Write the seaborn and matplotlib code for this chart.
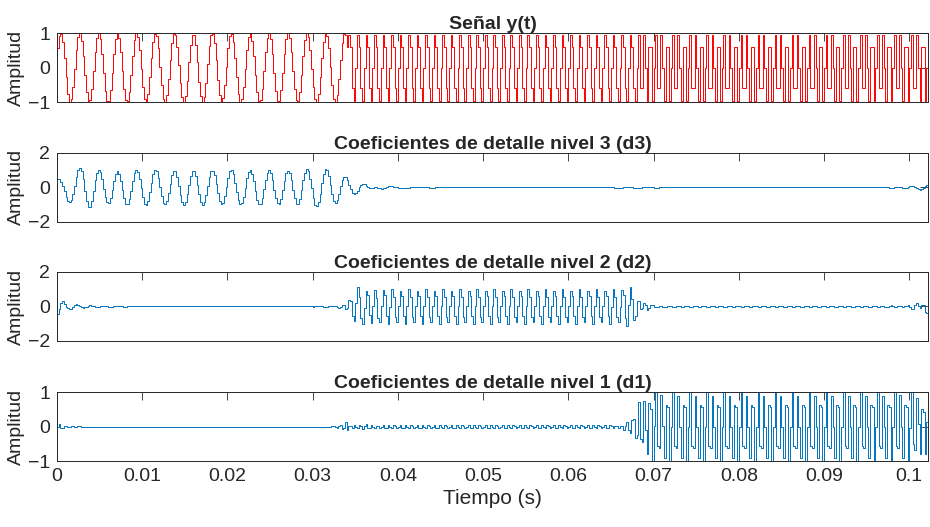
import numpy as np
import seaborn as sns
import matplotlib.pyplot as plt

# Parámetros de la señal
fs = 5000                      # frecuencia de muestreo (Hz)
n_muestras = 512
limites_segmentos = [0, 171, 342, 512]
frecuencias = [450, 1000, 1500]  # Hz, una por segmento
fases = [0.6, 0.0, 0.0]          # rad
n_taps = 62                      # longitud del filtro Meyer discreto

titulos = ['Señal y(t)',
           'Coeficientes de detalle nivel 3 (d3)',
           'Coeficientes de detalle nivel 2 (d2)',
           'Coeficientes de detalle nivel 1 (d1)']
limites_y = [1, 2, 2, 1]
ticks_x = [0, 0.01, 0.02, 0.03, 0.04, 0.05, 0.06, 0.07, 0.08, 0.09, 0.1]
etiquetas_x = ['0', '0.01', '0.02', '0.03', '0.04', '0.05', '0.06', '0.07', '0.08', '0.09', '0.1']

# Señal por tramos
t = np.arange(n_muestras) / fs
y = np.zeros(n_muestras)
for i in range(3):
    a, b = limites_segmentos[i], limites_segmentos[i + 1]
    y[a:b] = np.sin(2 * np.pi * frecuencias[i] * t[a:b] + fases[i])


# Filtro de escala Meyer discreto (aprox. FIR, como 'dmey')
def meyer(L, M=4096):
    w = 2 * np.pi * np.fft.fftfreq(M)
    x = np.clip(3 * np.abs(2 * w) / (2 * np.pi) - 1, 0, 1)
    nu = x ** 4 * (35 - 84 * x + 70 * x ** 2 - 20 * x ** 3)
    H = np.sqrt(2) * np.cos(np.pi / 2 * nu)
    hh = np.real(np.fft.ifft(H))
    n = np.arange(-L // 2 + 1, L // 2 + 1)
    h = hh[n % M]
    return h * np.sqrt(2) / h.sum()


h = meyer(n_taps)
L = len(h)
g = np.array([(-1) ** k * h[L - 1 - k] for k in range(L)])


def analisis(x):
    N = len(x)
    idx = (2 * np.arange(N // 2)[:, None] + np.arange(L)[None, :]) % N
    return (x[idx] * h).sum(1), (x[idx] * g).sum(1)


def sintesis(ca, cd):
    N = 2 * len(ca)
    x = np.zeros(N)
    for k in range(len(ca)):
        idx = (2 * k + np.arange(L)) % N
        np.add.at(x, idx, ca[k] * h + cd[k] * g)
    return x


# extensión simétrica para evitar el salto en los bordes
y_ext = np.concatenate([y, y[::-1]])
detalles = []
ca = y_ext.copy()
for nivel in range(3):
    ca, cd = analisis(ca)
    detalles.append(cd)


def reconstruir_detalle(nivel):
    cd = detalles[nivel - 1]
    x = sintesis(np.zeros_like(cd), cd)
    for _ in range(nivel - 1):
        x = sintesis(x, np.zeros_like(x))
    return x[:n_muestras]


d1 = reconstruir_detalle(1)
d2 = reconstruir_detalle(2)
d3 = reconstruir_detalle(3)

series = [y, d3, d2, d1]
colores = ['#ff0000', '#0072bd', '#0072bd', '#0072bd']

sns.set_style('white')
plt.rcParams['font.family'] = ['Liberation Sans', 'DejaVu Sans']

fig = plt.figure(figsize=(9.3, 5.27), dpi=100)
bottoms = [0.806, 0.579, 0.353, 0.125]
gris = '#262626'

for i in range(4):
    ax = fig.add_axes([0.0613, bottoms[i], 0.9366, 0.131])
    sns.lineplot(x=t, y=series[i], ax=ax, color=colores[i], linewidth=0.7,
                 drawstyle='steps-post', estimator=None, sort=False)
    ax.set_xlim(0, (n_muestras - 1) / fs)
    ax.set_ylim(-limites_y[i], limites_y[i])
    ax.set_yticks([-limites_y[i], 0, limites_y[i]])
    ax.set_xticks(ticks_x)
    if i == 3:
        ax.set_xticklabels(etiquetas_x)
        ax.set_xlabel('Tiempo (s)', fontsize=15, color=gris, labelpad=3)
    else:
        ax.set_xticklabels([])
        ax.set_xlabel('')
    ax.set_ylabel('Amplitud', fontsize=14, color=gris, labelpad=2)
    ax.set_title(titulos[i], fontsize=14, fontweight='bold', pad=3)
    ax.tick_params(direction='in', top=True, right=True, length=6, width=0.6,
                   labelsize=14, colors=gris, pad=5)
    for s in ax.spines.values():
        s.set_color(gris)
        s.set_linewidth(0.7)

fig.savefig('out.png', dpi=100)
